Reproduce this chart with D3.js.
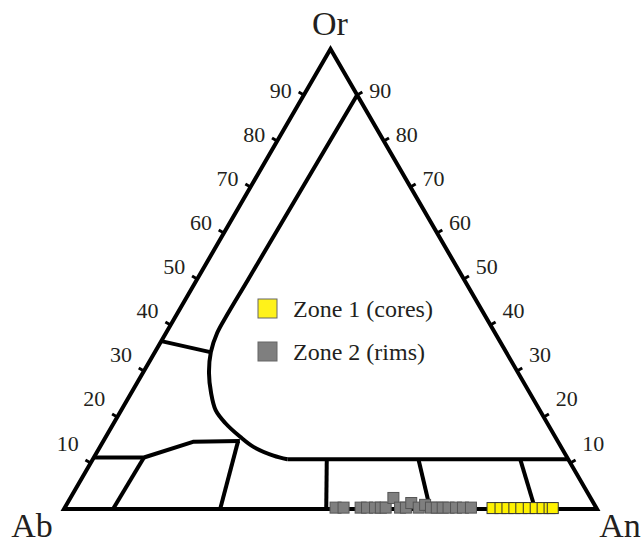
<!DOCTYPE html>
<html>
<head>
<meta charset="utf-8">
<script src="https://cdn.jsdelivr.net/npm/d3@7"></script>
<style>
  body { margin: 0; background: #fff; }
  text { font-family: "Liberation Serif", "Times New Roman", serif; fill: #231f20; }
</style>
</head>
<body>
<div class="chart"></div>
<script>
// values, as An % and Or % (Ab is what is left)
var zone1An = [80.3, 81.8, 83.1, 84.4, 85.7, 87.1, 88.4, 89.7, 91.0, 91.6];
var zone1Or = [0.2, 0.2, 0.2, 0.2, 0.2, 0.2, 0.2, 0.2, 0.2, 0.2];

var zone2An = [50.8, 52.3, 55.5, 56.7, 58.2, 59.3, 60.2, 60.6, 62.9, 64.0,
               64.5, 66.4, 67.3, 68.7, 69.8, 70.9, 72.0, 73.4, 74.7, 76.2];
var zone2Or = [0.3, 0.3, 0.3, 0.3, 0.3, 0.3, 0.3, 2.4, 0.3, 0.3,
               1.3, 0.3, 0.9, 0.3, 0.3, 0.3, 0.3, 0.3, 0.3, 0.3];

var tickValues = [10, 20, 30, 40, 50, 60, 70, 80, 90];
var legendLabels = ["Zone 1 (cores)", "Zone 2 (rims)"];

// field boundaries, [An, Or]
var mainCurve = [[10, 90], [9.6, 49.8], [9.5, 42.6], [9.6, 38.3], [10.5, 34.1],
                 [12.4, 29.6], [15.0, 25.2], [17.7, 21.5], [20.9, 18.7],
                 [25.2, 15.7], [28.8, 13.5], [33.5, 11.6], [36.5, 10.8]];
var upperRight = [[36.5, 10.8], [89.2, 10.8]];
var lowerLeft = [[0, 11.2], [9.4, 11.2], [16.9, 14.6], [25.6, 14.8]];
var sanidineLine = [[0, 36.5], [10.4, 34.1]];
var tieLines = [
  [[9.4, 11.2], [9.2, 0]],
  [[25.3, 14.7], [29.3, 0]],
  [[43.9, 10.8], [49.2, 0]],
  [[61.1, 10.8], [68.7, 0]],
  [[80.2, 10.8], [88.4, 0]]
];

var svgWidth = 643, svgHeight = 543;

var svg = d3.select(".chart")
  .append("svg")
  .attr("width", svgWidth)
  .attr("height", svgHeight);

// ternary -> screen: x from An + Or/2, y from Or
var xScale = d3.scaleLinear().domain([0, 100]).range([64, 597]);
var yScale = d3.scaleLinear().domain([0, 100]).range([509, 49]);

function px(d) { return xScale(d[0] + d[1] / 2); }
function py(d) { return yScale(d[1]); }

var line = d3.line().x(px).y(py);
var curvedLine = d3.line().x(px).y(py).curve(d3.curveCatmullRom);

var frame = svg.append("g")
  .attr("fill", "none")
  .attr("stroke", "#000")
  .attr("stroke-width", 4);

// triangle
frame.append("path")
  .attr("d", line([[0, 0], [100, 0], [0, 100]]) + "Z")
  .attr("stroke-linejoin", "miter");

frame.append("path").attr("d", curvedLine(mainCurve)).attr("stroke-linejoin", "round");
frame.append("path").attr("d", line(upperRight));
frame.append("path").attr("d", line(lowerLeft)).attr("stroke-linejoin", "round");
frame.append("path").attr("d", line(sanidineLine));
tieLines.forEach(function (t) {
  frame.append("path").attr("d", line(t));
});

// ticks on both Or sides
var tickLen = 6;
var ticks = svg.append("g").attr("stroke", "#000").attr("stroke-width", 3);
tickValues.forEach(function (v) {
  var lx = px([0, v]), ly = py([0, v]);
  var rx = px([100 - v, v]), ry = py([100 - v, v]);
  ticks.append("line")
    .attr("x1", lx).attr("y1", ly)
    .attr("x2", lx - tickLen * 0.866).attr("y2", ly - tickLen * 0.5);
  ticks.append("line")
    .attr("x1", rx).attr("y1", ry)
    .attr("x2", rx + tickLen * 0.866).attr("y2", ry - tickLen * 0.5);

  // labels sit a bit higher above the lower ticks
  var lift = 5 + 0.19 * (90 - v);
  svg.append("text")
    .attr("x", lx - 23).attr("y", ly - lift)
    .attr("dy", "0.35em")
    .attr("text-anchor", "middle")
    .attr("font-size", 22)
    .text(v);
  svg.append("text")
    .attr("x", rx + 23).attr("y", ry - lift)
    .attr("dy", "0.35em")
    .attr("text-anchor", "middle")
    .attr("font-size", 22)
    .text(v);
});

// apex labels
svg.append("text").attr("x", 330).attr("y", 35)
  .attr("text-anchor", "middle").attr("font-size", 34).text("Or");
svg.append("text").attr("x", 32).attr("y", 537)
  .attr("text-anchor", "middle").attr("font-size", 34).text("Ab");
svg.append("text").attr("x", 620).attr("y", 537)
  .attr("text-anchor", "middle").attr("font-size", 34).text("An");

// data points
var size = 11;
var zone2 = zone2An.map(function (a, i) { return [a, zone2Or[i]]; });
var zone1 = zone1An.map(function (a, i) { return [a, zone1Or[i]]; });

svg.append("g").selectAll("rect")
  .data(zone2)
  .enter()
  .append("rect")
  .attr("x", d => px(d) - size / 2)
  .attr("y", d => py(d) - size / 2)
  .attr("width", size)
  .attr("height", size)
  .attr("fill", "#7f7f7f")
  .attr("stroke", "#555")
  .attr("stroke-width", 1);

svg.append("g").selectAll("rect")
  .data(zone1)
  .enter()
  .append("rect")
  .attr("x", d => px(d) - size / 2)
  .attr("y", d => py(d) - size / 2)
  .attr("width", size)
  .attr("height", size)
  .attr("fill", "#fff200")
  .attr("stroke", "#333")
  .attr("stroke-width", 1);

// legend
var legendColors = ["#fff21a", "#7f7f7f"];
var legend = svg.append("g").attr("transform", "translate(258, 299)");
legendLabels.forEach(function (label, i) {
  legend.append("rect")
    .attr("x", 0).attr("y", i * 43)
    .attr("width", 19).attr("height", 19)
    .attr("fill", legendColors[i])
    .attr("stroke", "#666")
    .attr("stroke-width", 1);
  legend.append("text")
    .attr("x", 35).attr("y", i * 43 + 18)
    .attr("font-size", 24)
    .text(label);
});
</script>
</body>
</html>
